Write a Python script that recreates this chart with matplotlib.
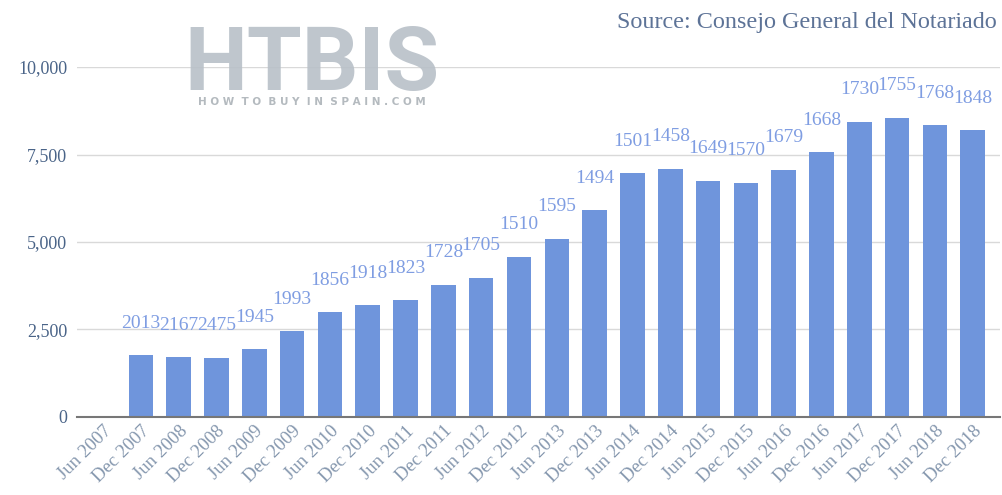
import matplotlib.pyplot as plt

# half-year periods, Jun 2007 has no bar
periods = ['Jun 2007', 'Dec 2007', 'Jun 2008', 'Dec 2008', 'Jun 2009', 'Dec 2009',
           'Jun 2010', 'Dec 2010', 'Jun 2011', 'Dec 2011', 'Jun 2012', 'Dec 2012',
           'Jun 2013', 'Dec 2013', 'Jun 2014', 'Dec 2014', 'Jun 2015', 'Dec 2015',
           'Jun 2016', 'Dec 2016', 'Jun 2017', 'Dec 2017', 'Jun 2018', 'Dec 2018']
sales = [None, 1770, 1700, 1690, 1940, 2450, 3000, 3190, 3330, 3780, 3980, 4580,
         5100, 5910, 6960, 7100, 6750, 6700, 7060, 7560, 8440, 8550, 8340, 8200]
price_labels = [None, 2013, 2167, 2475, 1945, 1993, 1856, 1918, 1823, 1728, 1705, 1510,
                1595, 1494, 1501, 1458, 1649, 1570, 1679, 1668, 1730, 1755, 1768, 1848]
yticks = [0, 2500, 5000, 7500, 10000]

plt.rcParams['font.family'] = ['Liberation Serif', 'DejaVu Serif']

fig = plt.figure(figsize=(10.02, 4.95), dpi=100)
ax = fig.add_axes([0.0768, 0.1576, 0.9212, 0.707])

xs = [i for i, v in enumerate(sales) if v is not None]
vals = [v for v in sales if v is not None]
bars = ax.bar(xs, vals, width=0.65, color='#6f95dc', zorder=3)

for x, v, lab in zip(xs, vals, [p for p in price_labels if p is not None]):
    ax.annotate(str(lab), (x, v), xytext=(0, 23), textcoords='offset points',
                ha='center', va='center', fontsize=14, color='#7f9de2',
                annotation_clip=False, zorder=4)

ax.set_xlim(-0.69, 23.72)
ax.set_ylim(0, 10000)
ax.set_yticks(yticks)
ax.set_yticklabels([f'{t:,}' for t in yticks], fontsize=13, color='#4a6488')
ax.set_xticks(range(len(periods)))
ax.set_xticklabels(periods, rotation=45, ha='right', va='top', rotation_mode='anchor',
                   fontsize=13.5, color='#8597ae')
ax.tick_params(axis='y', length=0, pad=7)
ax.tick_params(axis='x', length=0, pad=4)

ax.grid(axis='y', color='#d9d9d9', linewidth=1, zorder=0)
for s in ['top', 'right', 'left']:
    ax.spines[s].set_visible(False)
ax.spines['bottom'].set_color('#777777')
ax.spines['bottom'].set_linewidth(1.5)
ax.spines['bottom'].set_zorder(5)

fig.text(0.995, 0.955, 'Source: Consejo General del Notariado', ha='right', va='center',
         fontsize=17.4, color='#5d7397')

# watermark
fig.text(0.311, 0.818, 'HTBIS', ha='center', va='baseline', fontsize=64,
         fontweight='bold', family='Roboto', color='#b8c0c8', alpha=0.9, zorder=10)
fig.text(0.311, 0.794, 'H O W  T O  B U Y  I N  S P A I N . C O M', ha='center', va='center',
         fontsize=7.5, fontweight='bold', family='DejaVu Sans', color='#b4babf', zorder=10)

fig.savefig('out.png', dpi=100)
